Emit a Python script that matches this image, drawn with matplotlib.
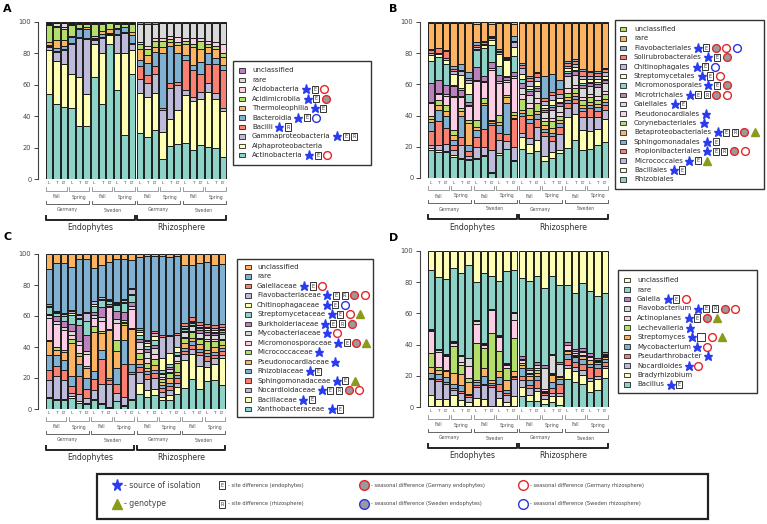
import numpy as np
import matplotlib
matplotlib.use("Agg")
import matplotlib.pyplot as plt
from matplotlib.patches import Rectangle
from matplotlib.transforms import blended_transform_factory

# Colours cycle through the first ten Set3 colours, bottom of the stack first
palette = ["#8dd3c7", "#ffffb3", "#bebada", "#fb8072", "#80b1d3",
           "#fdb462", "#b3de69", "#fccde5", "#d9d9d9", "#bc80bd"]

genotypes = ["L", "T", "LT"]
seasons = ["Fall", "Spring"]
countries = ["Germany", "Sweden"]
compartments = ["Endophytes", "Rhizosphere"]

# Marks after each legend name: s star, t triangle, E/R boxed letter, B empty box,
# g grey circle red rim, h grey circle blue rim, r open red circle, b open blue circle

# ---- Panel A: classes, bottom of stack first
a_taxa = ["Actinobacteria", "Alphaproteobacteria", "Gammaproteobacteria", "Bacilli",
          "Bacteroidia", "Thermoleophilia", "Acidimicrobiia", "Acidobacteria",
          "rare", "unclassified"]
a_marks = ["sEr", "", "sER", "sR", "sEb", "sE", "sEg", "sEr", "", ""]
# one row per bar: Endophytes (Germany Fall L,T,LT, Spring L,T,LT, Sweden ...) then Rhizosphere
a_rows = [
    [54, 28, 2, 0.5, 1, 1.5, 11, 0.5, 1, 0.5],
    [48, 27, 6, 0.5, 2, 5, 8, 1, 2, 0.5],
    [46, 27, 9, 0.5, 2, 4, 7, 1, 3, 0.5],
    [45, 22, 19, 0.5, 4, 0.5, 7, 0.5, 1, 0.5],
    [34, 31, 25, 0.5, 5, 0.5, 3, 0.5, 0.5, 0],
    [34, 20, 35, 0.5, 6, 1, 2.5, 0.5, 0.5, 0],
    [65, 21, 2.5, 0.5, 1, 1, 8, 0.5, 0.5, 0],
    [47.5, 32.5, 10, 0.5, 2, 1.5, 5, 0.5, 0.5, 0],
    [86, 6, 0.5, 0.3, 0.5, 2, 4, 0.3, 0.4, 0],
    [57, 23, 12, 0.5, 3, 0.5, 3, 0.5, 0.5, 0],
    [28, 52.5, 12.5, 0.5, 3, 0.5, 2, 0.5, 0.5, 0],
    [67, 15, 4, 0.5, 5.5, 1.5, 5, 0.5, 0.5, 0.5],
    [29, 26, 9, 8, 4, 7, 3, 1, 12, 1],
    [27, 25, 9, 5, 8, 5, 4, 2, 14, 1],
    [31, 24, 12, 5, 9, 3, 4, 2, 9, 1],
    [13, 17, 14, 1.5, 34.5, 4, 4, 2, 9.5, 0.5],
    [21, 17, 20, 3, 24, 2, 2, 2, 8.5, 0.5],
    [22, 22, 16, 1.5, 19, 5, 2, 3, 9, 0.5],
    [23, 30.5, 3.5, 19, 3, 7, 2, 2, 9.5, 0.5],
    [18.5, 31.5, 2.5, 17, 3, 11.5, 2, 4, 9.5, 0.5],
    [21.5, 29.5, 4.5, 11.5, 7.5, 8.5, 5, 2, 9.5, 0.5],
    [20.5, 35, 5.5, 12.5, 6.5, 4, 2, 2, 11.5, 0.5],
    [20, 31, 3.5, 19, 3.5, 5.5, 2, 3, 12, 0.5],
    [14, 29, 2, 24.5, 3, 5.5, 2, 6, 13.5, 0.5],
]

# ---- Panel B: orders
b_taxa = ["Rhizobiales", "Bacillales", "Micrococcales", "Propionibacteriales",
          "Sphingomonadales", "Betaproteobacteriales", "Corynebacteriales",
          "Pseudonocardiales", "Gaiellales", "Microtrichales", "Micromonosporales",
          "Streptomycetales", "Chitinophagales", "Solirubrobacterales",
          "Flavobacteriales", "rare", "unclassified"]
b_marks = ["", "sE", "sEt", "sERgr", "sE", "sERgt", "s", "s", "sE", "sERgr",
           "sEg", "sEr", "sEb", "sEg", "sEgrb", "", ""]
b_rows = [
    [18, 1, 2, 9, 6, 2, 2, 8, 1, 12, 14, 4, 1, 2, 0.5, 17, 0.5],
    [17, 1, 3, 16, 7, 3, 3, 4, 1, 8, 15, 2, 0.5, 3, 0.5, 16, 0.5],
    [17, 0.5, 4.5, 10, 8, 3, 4, 6, 1, 6, 13.5, 2.5, 1, 5, 0.5, 17.5, 0.5],
    [13.5, 1, 3.5, 3, 3.5, 3.5, 3, 21, 1, 6, 1, 7, 2, 1, 2, 28, 0.5],
    [12.5, 0.5, 9, 5, 13.5, 3.5, 2, 7, 1, 4, 1, 9, 2, 1, 4, 27, 0.5],
    [11.3, 1, 2, 2.7, 4, 14, 2, 9, 1, 2, 5, 7, 2, 1, 4, 31.5, 0.5],
    [12, 1, 7, 6, 5, 2, 4, 25, 1, 8, 11, 1, 1, 1, 2, 12, 1],
    [14, 1, 5, 12, 15, 1.5, 3.5, 10, 1, 3, 18, 2, 1, 1, 1, 12, 0],
    [3, 1, 14, 16, 1, 1.5, 1, 32, 1, 4, 11, 3, 1, 1, 0.5, 8, 1],
    [15, 1, 8.5, 4.5, 5, 2, 4.5, 21, 1, 4, 6, 8, 1, 1, 1, 17, 0.5],
    [19, 0.5, 5, 4.5, 21, 4, 1, 9, 1, 2, 1, 10, 1, 0.5, 0.5, 23, 0.5],
    [10.7, 1, 8, 18, 1, 1.5, 2, 22, 1, 3, 10, 6, 3, 1, 3, 8, 1],
    [19, 7.5, 2.5, 11, 2, 2, 7, 3, 4, 3, 3, 3, 4, 2, 1, 26, 0.5],
    [16, 6, 3.6, 10, 2, 3, 4.5, 3, 5, 3, 1, 2, 3, 2, 1.5, 34, 0.5],
    [17, 7.5, 8.5, 5, 3, 2, 5, 3, 5, 2, 1, 3, 3, 2, 1, 31.5, 0.5],
    [10.7, 3.3, 13, 3, 2, 2, 3, 2, 4, 1, 1, 2, 3, 2, 14, 34.5, 0.5],
    [13, 4, 7.5, 3, 2, 3, 5, 2, 5, 2, 1.5, 3, 3, 2, 12, 33.5, 0.5],
    [16, 2, 10, 5, 2, 2, 3, 2, 4, 2, 1, 2, 3, 3, 6, 36.5, 0.5],
    [20, 21, 6, 3, 2, 2, 3, 3, 8, 2, 1, 2, 2, 2, 1, 25, 1],
    [25, 17, 7, 3, 2, 2, 3, 2, 7, 2, 1, 2, 2, 2, 1, 24, 0.5],
    [18, 13, 8, 4, 2, 2, 3, 2, 6, 2, 1, 3, 2, 3, 1, 30, 0.5],
    [19, 11, 9, 6, 2, 2, 3, 2, 5, 2, 1, 2, 2, 2, 1, 31, 0.5],
    [21, 10, 8, 4, 2, 2, 3, 2, 6, 2, 1, 2, 2, 2, 1, 31, 0.5],
    [23, 15, 6, 3, 2, 2, 3, 2, 5, 2, 1, 2, 2, 2, 1, 29, 0.5],
]

# ---- Panel C: families
c_taxa = ["Xanthobacteraceae", "Bacillaceae", "Nocardioidaceae", "Sphingomonadaceae",
          "Rhizobiaceae", "Pseudonocardiaceae", "Micrococcaceae", "Micromonosporaceae",
          "Mycobacteriaceae", "Burkholderiaceae", "Streptomycetaceae", "Chitinophagaceae",
          "Flavobacteriaceae", "Gaiellaceae", "rare", "unclassified"]
c_marks = ["sE", "sE", "sERgr", "sEt", "sE", "s", "s", "sEgt", "sr", "sERg",
           "sErt", "sEb", "sERgr", "sEr", "", ""]
c_rows = [
    [7, 1, 11, 6, 10, 8.6, 1, 14, 2, 1, 4, 0.5, 0.5, 1.5, 22.5, 9.5],
    [6, 0.5, 14.5, 7, 7, 3, 2, 15, 2, 3, 2, 0.5, 0.5, 0.5, 30.5, 6],
    [6, 0.5, 12, 7, 6.5, 5, 1, 13, 2, 4, 3, 0.5, 1, 0.5, 32.5, 6],
    [7, 1, 2, 5, 6, 21, 2.5, 2.5, 3, 4, 6, 1.5, 1, 0.5, 28, 8],
    [4, 1, 5, 11, 8, 5, 2, 5, 3, 10, 4, 0.5, 2, 0.5, 36, 3],
    [3, 1, 3, 6, 7, 6.5, 1, 8, 2, 10, 9, 0.5, 5, 0.5, 34.5, 3],
    [6, 0.5, 6, 7, 5, 25, 4, 5, 2, 2, 4, 1, 2, 0.5, 21, 9],
    [3.5, 0.5, 12, 16, 6, 11, 1.5, 6, 3, 6, 5, 0.5, 1, 0.5, 20.5, 7],
    [0.5, 0.5, 15, 3, 1, 31, 1, 14, 1, 1, 2, 0.5, 0.5, 0.5, 24, 5],
    [5, 0.5, 5, 6, 10, 11, 7, 11, 3, 5, 4, 0.5, 1, 0.5, 27.5, 3.5],
    [2, 0.5, 5.5, 21, 16, 10, 1, 1, 1, 5, 6, 1, 1, 0.5, 26.5, 3],
    [6, 0.5, 16.5, 1, 5, 23, 1, 12, 2, 3, 4, 1, 3, 1, 18, 4],
    [10, 7, 7, 3, 2, 3, 4, 3, 4, 2, 3, 2, 1, 1, 46, 2],
    [8, 4.5, 7, 3, 2, 2, 3, 3, 4, 2, 2, 2, 1, 1, 53.5, 1.5],
    [9, 4, 7, 3, 2, 3, 4, 3, 4, 2, 3, 3, 2, 1, 48, 1.5],
    [6, 2, 3, 3, 2, 2, 2, 1, 2, 1, 2, 8, 14, 1, 53, 1],
    [6, 3, 3, 3, 2, 3, 3, 1, 2, 1, 2, 7, 11, 1, 50, 2],
    [10, 4, 3, 3, 2, 2, 6, 1, 3, 1, 2, 3, 8, 1, 50, 1],
    [14, 18, 4, 2, 2, 3, 3, 1, 3, 1, 1, 1, 1, 2, 38, 7],
    [19.5, 16.5, 3, 3, 2, 2, 4, 1, 3, 1, 1, 1, 0.5, 2.5, 34, 7],
    [13, 15, 7, 2, 2, 3, 3, 1, 3, 2, 1, 1, 1, 2, 38, 6],
    [18, 9, 4, 3, 2, 2, 6, 1, 3, 2, 1, 1, 1, 2, 40, 5],
    [19, 10, 4, 2, 2, 3, 4, 1, 3, 1, 1, 1, 1, 2, 39, 7],
    [16, 18, 2, 3, 2, 2, 3, 1, 3, 2, 1, 1, 1, 2, 40, 7],
]

# ---- Panel D: genera
d_taxa = ["Bacillus", "Bradyrhizobium", "Nocardioides", "Pseudarthrobacter",
          "Mycobacterium", "Streptomyces", "Lechevalieria", "Actinoplanes",
          "Flavobacterium", "Gaiella", "rare", "unclassified"]
d_marks = ["sE", "", "sr", "s", "sr", "sBrt", "s", "sEgt", "sERgr", "sEr", "", ""]
d_rows = [
    [0.5, 7.5, 10, 1, 3, 4, 9, 14, 0.5, 0.5, 38, 12.5],
    [0.5, 4.5, 12, 1, 3, 3, 1.5, 10, 1, 1, 46, 17],
    [0.5, 4.5, 10, 1, 3, 4, 1, 9, 0.5, 0.5, 48, 18],
    [0.5, 7.5, 3, 1, 3, 7, 17, 2, 1, 0.5, 47, 11],
    [0.5, 4, 4.5, 1, 4, 7, 6, 2, 4, 0.5, 52.5, 14],
    [0.5, 3, 3, 1, 1, 8, 2, 8, 5, 0.5, 60, 9],
    [0.5, 5.5, 7, 1, 2, 1, 24, 12, 2, 0.5, 24.5, 20],
    [0.5, 4.5, 9, 1, 5, 5, 13, 2, 0.5, 0.5, 45, 14],
    [0.3, 0.5, 12.5, 1, 1.5, 2, 30, 15, 0.5, 0.5, 21.5, 16],
    [0.5, 5.5, 4, 5, 4, 4, 13, 9, 0.5, 0.5, 35, 19],
    [0.5, 2.5, 5, 1, 2, 6, 8, 2, 0.5, 0.5, 59, 13],
    [0.5, 6.5, 11, 1, 1, 3, 21, 12, 4, 1, 27, 12],
    [7, 6, 4, 3, 5, 2, 1, 2, 1, 2, 50, 17],
    [4, 4, 4, 2, 3, 3, 1, 1, 2, 1, 56, 19],
    [4, 6, 2, 5, 3, 2, 2, 1, 2, 2, 55, 16],
    [2, 3, 3, 1, 0.5, 0.5, 0.5, 1, 14, 1.5, 50, 24],
    [3, 4, 2, 3, 4, 5, 0.5, 0.5, 11.5, 0.5, 51, 16],
    [1, 6, 2, 6, 3, 1, 0.5, 0.5, 7.5, 1.5, 49, 22],
    [18, 7, 2, 4, 3, 2, 0.5, 3, 0.5, 1.5, 37, 21.5],
    [16, 7, 3, 3, 3, 1, 0.5, 1.5, 1, 1.5, 36, 27],
    [15, 6, 3, 4, 3, 2, 0.5, 2, 0.5, 2, 42, 21],
    [9.5, 7.5, 2, 7, 2, 2, 0.5, 2, 0.5, 1.5, 40, 26],
    [11, 7, 2, 5, 3, 1, 0.5, 0.5, 0.5, 1.5, 40, 29],
    [18.5, 6.5, 1, 3, 2, 1, 0.5, 1, 0.5, 1.5, 37.5, 27],
]

STAR = "#2b3cf0"
OLIVE = "#8c9a1c"
RED = "#e3262b"
BLUE = "#2b34e0"
TXT = "#2a2a2a"

W, H = 767, 524
fig = plt.figure(figsize=(W / 100, H / 100), dpi=100)


def px_axes(x0, y0, x1, y1):
    """Add an axes from pixel corners (top-left origin)"""
    return fig.add_axes([x0 / W, (H - y1) / H, (x1 - x0) / W, (y1 - y0) / H])


def draw_bars(ax, rows):
    """Stacked percentage bars, one row per bar"""
    vals = np.array(rows, dtype=float).T
    vals = vals / vals.sum(axis=0) * 100
    x = np.arange(vals.shape[1])
    bottom = np.zeros(vals.shape[1])
    for i, v in enumerate(vals):
        ax.bar(x, v, bottom=bottom, width=0.86, color=palette[i % 10],
               edgecolor="#1c1c1c", linewidth=0.7)
        bottom += v
    ax.set_xlim(-0.5, 23.5)
    ax.set_ylim(0, 100)
    ax.set_xticks([])
    ax.set_yticks([0, 20, 40, 60, 80, 100])
    ax.tick_params(axis="y", labelsize=4.8, length=2.8, width=0.7, pad=2, colors="#444")
    for s in ["top", "right", "bottom"]:
        ax.spines[s].set_visible(False)
    ax.spines["left"].set_position(("outward", 5))
    ax.spines["left"].set_bounds(0, 100)
    ax.spines["left"].set_linewidth(0.8)
    ax.spines["left"].set_color("#444")


def draw_groups(ax, over, ybot):
    """Genotype labels and the bracket hierarchy under the bars"""
    tr = blended_transform_factory(ax.transData, over.transData)
    for i in range(24):
        over.text(i, ybot + 4.5, genotypes[i % 3], transform=tr, fontsize=3.2,
                  ha="center", va="center", color="#555")
    # seasons
    for g in range(8):
        x0, x1 = g * 3 - 0.35, g * 3 + 2 + 0.35
        y = ybot + 12
        over.plot([x0, x0, x1, x1], [y - 4, y, y, y - 4], transform=tr,
                  color="#777", lw=0.5, clip_on=False)
        over.text((x0 + x1) / 2, ybot + 18, seasons[g % 2], transform=tr,
                  fontsize=3.3, ha="center", va="center", color="#555")
    # countries
    for g in range(4):
        x0, x1 = g * 6 - 0.35, g * 6 + 5 + 0.35
        y = ybot + 25
        over.plot([x0, x0, x1, x1], [y - 3, y, y, y - 3], transform=tr,
                  color="#666", lw=0.7, clip_on=False)
        over.text((x0 + x1) / 2, ybot + 31, countries[g % 2], transform=tr,
                  fontsize=3.3, ha="center", va="center", color="#555")
    # compartments
    for g in range(2):
        x0, x1 = g * 12 - 0.35, g * 12 + 11 + 0.35
        y = ybot + 41
        over.plot([x0, x0, x1, x1], [y - 4, y, y, y - 4], transform=tr,
                  color="#222", lw=1.4, clip_on=False)
        over.text((x0 + x1) / 2, ybot + 49, compartments[g], transform=tr,
                  fontsize=5.6, ha="center", va="center", color="#333")


mark_w = {"s": 7, "t": 8, "E": 7, "R": 7, "B": 9, "g": 9, "h": 9, "r": 9, "b": 9}


def draw_mark(over, code, x, y, big=False):
    """One significance symbol centred at x, y (pixels)"""
    k = 1.25 if big else 1.0
    if code == "s":
        over.plot(x, y, marker="*", ms=6.5 * k, color=STAR, mec=STAR, clip_on=False)
    elif code == "t":
        over.plot(x, y, marker="^", ms=5.2 * k, color=OLIVE, mec=OLIVE, clip_on=False)
    elif code in "ERB":
        w = 8 if code == "B" else 6
        over.add_patch(Rectangle((x - w / 2 * k, y - 3.6 * k), w * k, 7.2 * k, fc="white",
                                 ec="#333", lw=0.7, clip_on=False))
        if code != "B":
            over.text(x, y + 0.3, code, fontsize=3.4 * k, ha="center", va="center", color="#333")
    else:
        face = "#9a9a9a" if code in "gh" else "white"
        edge = RED if code in "gr" else BLUE
        over.plot(x, y, marker="o", ms=5.6 * k, mfc=face, mec=edge, mew=1.0, clip_on=False)


def draw_legend(over, box, x_sw, x_txt, y0, dy, taxa, marks):
    """Boxed legend, top entry is the top of the stack"""
    bx0, by0, bx1, by1 = box
    over.add_patch(Rectangle((bx0, by0), bx1 - bx0, by1 - by0, fill=False, ec="#333", lw=1.0))
    n = len(taxa)
    renderer = fig.canvas.get_renderer()
    for k in range(n):
        i = n - 1 - k
        y = y0 + k * dy
        over.add_patch(Rectangle((x_sw - 2.6, y - 2.2), 5.2, 4.4, fc=palette[i % 10],
                                 ec="#222", lw=0.6))
        t = over.text(x_txt, y, taxa[i], fontsize=5, ha="left", va="center", color=TXT)
        xe = t.get_window_extent(renderer).x1
        prev = None
        for c in marks[i]:
            if prev is None:
                xc = xe + 3 + mark_w[c] / 2
            else:
                xc = xc + mark_w[prev] / 2 + 1.6 + mark_w[c] / 2
            draw_mark(over, c, xc, y)
            prev = c


axA = px_axes(45, 22, 227, 179)
axB = px_axes(427, 22, 609, 178)
axC = px_axes(45, 254, 226, 409)
axD = px_axes(427, 251, 609, 407)
draw_bars(axA, a_rows)
draw_bars(axB, b_rows)
draw_bars(axC, c_rows)
draw_bars(axD, d_rows)

over = fig.add_axes([0, 0, 1, 1])
over.set_xlim(0, W)
over.set_ylim(H, 0)
over.axis("off")

draw_groups(axA, over, 179)
draw_groups(axB, over, 178)
draw_groups(axC, over, 409)
draw_groups(axD, over, 407)

draw_legend(over, (233, 61, 371, 165), 242, 252, 70.5, 9.4, a_taxa, a_marks)
draw_legend(over, (615, 20, 764, 189), 623, 634, 29, 9.4, b_taxa, b_marks)
draw_legend(over, (237, 259, 373, 417), 248, 257, 267, 9.47, c_taxa, c_marks)
draw_legend(over, (618, 270, 757, 393), 627, 637, 280, 9.5, d_taxa, d_marks)

# panel letters
for letter, (x, y) in zip("ABCD", [(3, 9), (389, 9), (3, 237), (389, 238)]):
    over.text(x, y, letter, fontsize=8, fontweight="bold", ha="left", va="center")

# key to the symbols
over.add_patch(Rectangle((97, 474), 611, 45, fill=False, ec="#222", lw=1.6))
r1, r2 = 485, 504
draw_mark(over, "s", 117, r1, big=True)
over.text(124, r1, "- source of isolation", fontsize=5.6, va="center", color="#444")
draw_mark(over, "t", 117, r2, big=True)
over.text(124, r2, "- genotype", fontsize=5.6, va="center", color="#444")
draw_mark(over, "E", 222, r1)
over.text(228, r1, "- site difference (endophytes)", fontsize=3.7, va="center", color="#444")
draw_mark(over, "R", 222, r2)
over.text(228, r2, "- site difference (rhizosphere)", fontsize=3.7, va="center", color="#444")
draw_mark(over, "g", 364, r1, big=True)
over.text(371, r1, "- seasonal difference (Germany endophytes)", fontsize=3.7, va="center", color="#444")
draw_mark(over, "h", 364, r2, big=True)
over.text(371, r2, "- seasonal difference (Sweden endophytes)", fontsize=3.7, va="center", color="#444")
draw_mark(over, "r", 523, r1, big=True)
over.text(530, r1, "- seasonal difference (Germany rhizosphere)", fontsize=3.7, va="center", color="#444")
draw_mark(over, "b", 523, r2, big=True)
over.text(530, r2, "- seasonal difference (Sweden rhizosphere)", fontsize=3.7, va="center", color="#444")

fig.savefig("out.png", dpi=100)
